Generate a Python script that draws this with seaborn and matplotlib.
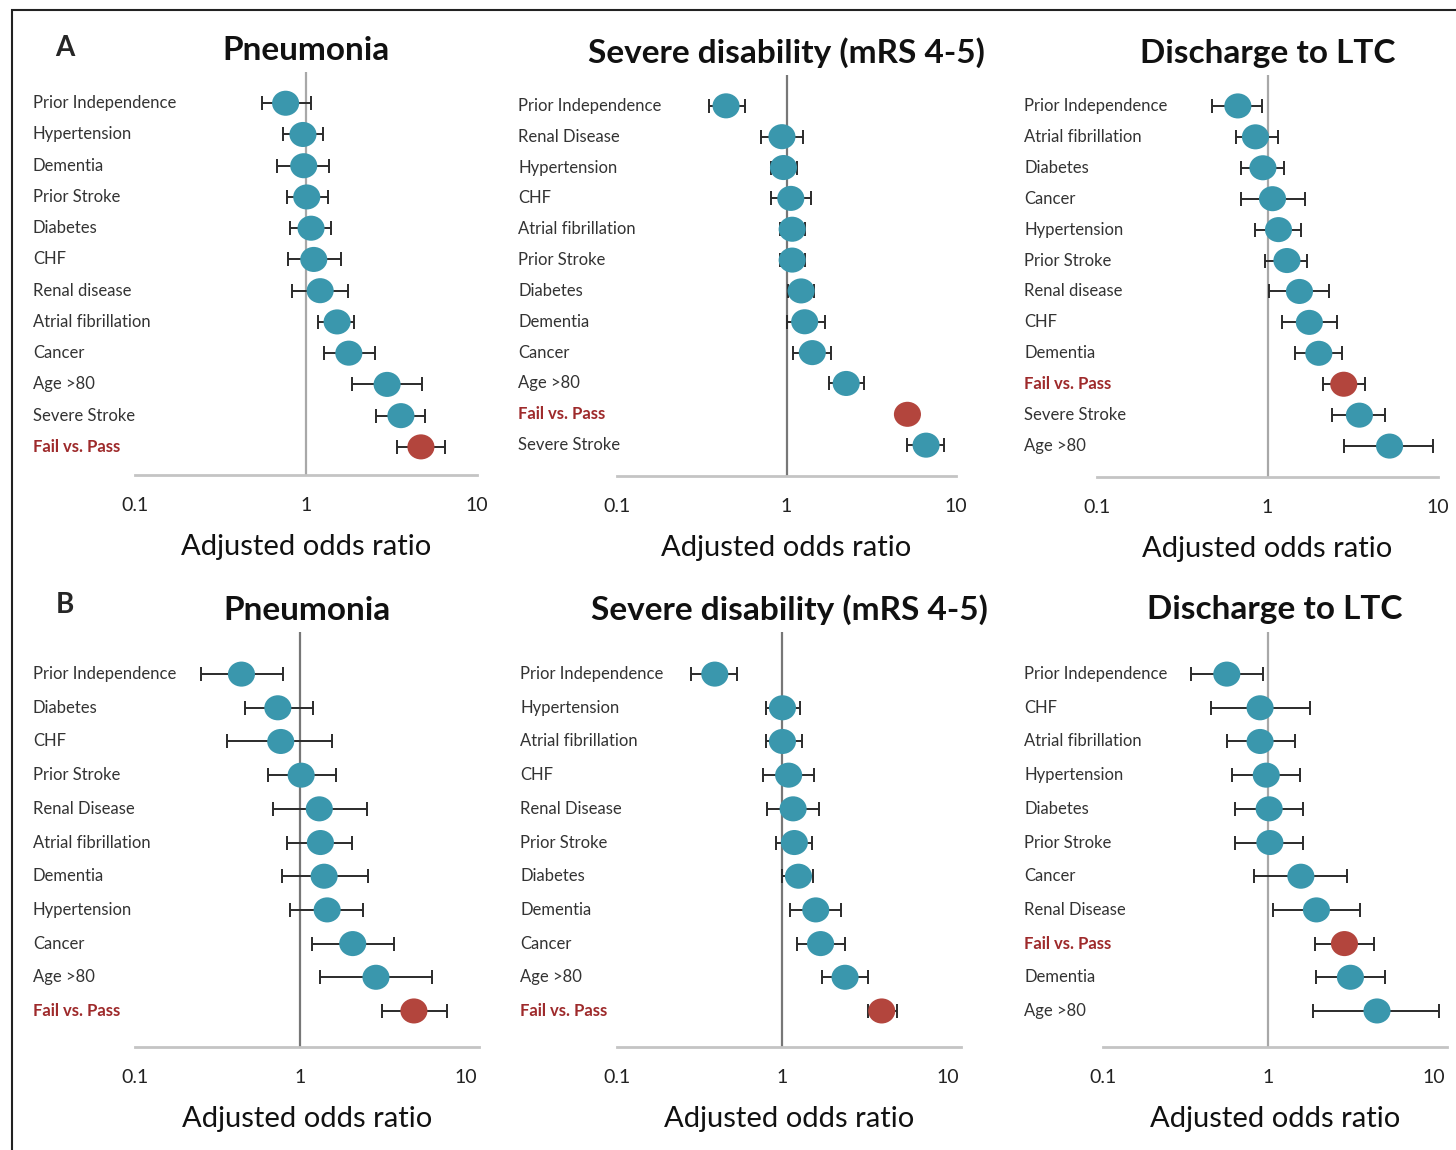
import matplotlib
matplotlib.use("Agg")
import matplotlib.pyplot as plt
import matplotlib.patches as mpatches
from matplotlib.path import Path
from matplotlib.ticker import NullLocator
import numpy as np
import pandas as pd
import seaborn as sns

# ---- data (odds ratio, 95% CI) ----
# A: Pneumonia
pna_a_labels = ["Prior Independence", "Hypertension", "Dementia", "Prior Stroke", "Diabetes", "CHF",
                "Renal disease", "Atrial fibrillation", "Cancer", "Age >80", "Severe Stroke", "Fail vs. Pass"]
pna_a_or = [0.76, 0.96, 0.97, 1.01, 1.07, 1.11, 1.21, 1.52, 1.78, 2.98, 3.59, 4.70]
pna_a_lo = [0.55, 0.73, 0.68, 0.77, 0.81, 0.78, 0.83, 1.18, 1.27, 1.86, 2.56, 3.41]
pna_a_hi = [1.07, 1.26, 1.36, 1.35, 1.40, 1.60, 1.76, 1.91, 2.53, 4.76, 4.97, 6.49]

# A: Severe disability
dis_a_labels = ["Prior Independence", "Renal Disease", "Hypertension", "CHF", "Atrial fibrillation", "Prior Stroke",
                "Diabetes", "Dementia", "Cancer", "Age >80", "Fail vs. Pass", "Severe Stroke"]
dis_a_or = [0.44, 0.94, 0.96, 1.06, 1.08, 1.08, 1.22, 1.28, 1.42, 2.25, 5.17, 6.66]
dis_a_lo = [0.35, 0.71, 0.81, 0.81, 0.91, 0.91, 1.02, 1.00, 1.09, 1.77, 4.85, 5.13]
dis_a_hi = [0.57, 1.25, 1.15, 1.40, 1.28, 1.28, 1.46, 1.68, 1.84, 2.85, 5.50, 8.53]

# A: Discharge to LTC
ltc_a_labels = ["Prior Independence", "Atrial fibrillation", "Diabetes", "Cancer", "Hypertension", "Prior Stroke",
                "Renal disease", "CHF", "Dementia", "Fail vs. Pass", "Severe Stroke", "Age >80"]
ltc_a_or = [0.67, 0.85, 0.94, 1.07, 1.16, 1.30, 1.54, 1.76, 2.00, 2.80, 3.46, 5.20]
ltc_a_lo = [0.47, 0.65, 0.70, 0.70, 0.84, 0.97, 1.02, 1.21, 1.45, 2.12, 2.39, 2.80]
ltc_a_hi = [0.93, 1.16, 1.25, 1.67, 1.58, 1.70, 2.28, 2.55, 2.74, 3.75, 4.92, 9.35]

# B: Pneumonia
pna_b_labels = ["Prior Independence", "Diabetes", "CHF", "Prior Stroke", "Renal Disease", "Atrial fibrillation",
                "Dementia", "Hypertension", "Cancer", "Age >80", "Fail vs. Pass"]
pna_b_or = [0.44, 0.73, 0.76, 1.01, 1.30, 1.32, 1.39, 1.45, 2.07, 2.86, 4.85]
pna_b_lo = [0.25, 0.46, 0.36, 0.64, 0.68, 0.83, 0.77, 0.86, 1.17, 1.31, 3.09]
pna_b_hi = [0.78, 1.19, 1.55, 1.64, 2.53, 2.06, 2.57, 2.40, 3.66, 6.25, 7.69]

# B: Severe disability
dis_b_labels = ["Prior Independence", "Hypertension", "Atrial fibrillation", "CHF", "Renal Disease", "Prior Stroke",
                "Diabetes", "Dementia", "Cancer", "Age >80", "Fail vs. Pass"]
dis_b_or = [0.39, 1.00, 1.00, 1.09, 1.16, 1.18, 1.25, 1.59, 1.70, 2.39, 3.98]
dis_b_lo = [0.28, 0.80, 0.79, 0.76, 0.81, 0.92, 1.00, 1.11, 1.22, 1.73, 3.27]
dis_b_hi = [0.53, 1.27, 1.31, 1.55, 1.67, 1.50, 1.54, 2.26, 2.39, 3.30, 4.90]

# B: Discharge to LTC
ltc_b_labels = ["Prior Independence", "CHF", "Atrial fibrillation", "Hypertension", "Diabetes", "Prior Stroke",
                "Cancer", "Renal Disease", "Fail vs. Pass", "Dementia", "Age >80"]
ltc_b_or = [0.56, 0.89, 0.89, 0.97, 1.01, 1.02, 1.57, 1.95, 2.88, 3.13, 4.53]
ltc_b_lo = [0.34, 0.45, 0.56, 0.60, 0.63, 0.63, 0.82, 1.06, 1.91, 1.93, 1.86]
ltc_b_hi = [0.93, 1.78, 1.45, 1.55, 1.62, 1.62, 2.99, 3.60, 4.32, 5.04, 10.7]

TEAL = "#3a97ad"
RED = "#b3453d"
LABEL_RED = "#9e2a2b"

W, H = 1456, 1150

sns.set_theme(style="white")
plt.rcParams["font.family"] = ["Lato", "DejaVu Sans"]

# slightly flattened dot, like the original markers
circle = Path.unit_circle()
oval = Path(circle.vertices * np.array([1.08, 1.0]), circle.codes)

fig = plt.figure(figsize=(W / 100, H / 100), dpi=100)


def add_axes_px(left, right, top, bottom):
    return fig.add_axes([left / W, 1 - bottom / H, (right - left) / W, (bottom - top) / H])


def forest(ax, labels, odds, lo, hi, title, label_x, ylim, xmax, refcolor):
    df = pd.DataFrame({"factor": labels, "or": odds, "lo": lo, "hi": hi})
    df["row"] = np.arange(len(df))
    df["kind"] = np.where(df["factor"] == "Fail vs. Pass", "test", "other")

    ax.axvline(1, color=refcolor, lw=1.6, zorder=1)
    ax.errorbar(df["or"], df["row"], xerr=[df["or"] - df["lo"], df["hi"] - df["or"]],
                fmt="none", ecolor="#2b2b2b", elinewidth=1.4, capsize=5, capthick=1.4, zorder=2)
    sns.scatterplot(data=df, x="or", y="row", hue="kind", palette={"other": TEAL, "test": RED},
                    marker=oval, s=380, edgecolor="none", legend=False, ax=ax, zorder=3)

    ax.set_xscale("log")
    ax.set_xlim(0.1, xmax)
    ax.set_ylim(*ylim)
    ax.set_yticks([])
    ax.set_xticks([0.1, 1, 10])
    ax.set_xticklabels(["0.1", "1", "10"])
    ax.xaxis.set_minor_locator(NullLocator())
    ax.tick_params(axis="x", length=0, pad=16, labelsize=14, labelcolor="#222")
    for side in ["top", "right", "left"]:
        ax.spines[side].set_visible(False)
    ax.spines["bottom"].set_color("#c4c4c4")
    ax.spines["bottom"].set_linewidth(2)
    ax.set_xlabel("Adjusted odds ratio", fontsize=21, labelpad=14, color="#111")
    ax.set_ylabel("")
    ax.set_title(title, fontsize=24, fontweight="bold", pad=9, color="#111")

    for r, name in zip(df["row"], df["factor"]):
        if name == "Fail vs. Pass":
            ax.text(label_x, r, name, transform=ax.get_yaxis_transform(), ha="left", va="center",
                    fontsize=12, color=LABEL_RED, fontweight="bold")
        else:
            ax.text(label_x, r, name, transform=ax.get_yaxis_transform(), ha="left", va="center",
                    fontsize=12, color="#333")


# top row (A)
ax = add_axes_px(135, 477, 72, 475)
forest(ax, pna_a_labels, pna_a_or, pna_a_lo, pna_a_hi, "Pneumonia", (33 - 135) / 342, (11.9, -1.0), 10, "#a8a8a8")
ax = add_axes_px(617, 956, 75, 476)
forest(ax, dis_a_labels, dis_a_or, dis_a_lo, dis_a_hi, "Severe disability (mRS 4-5)", (518 - 617) / 339,
       (12.0, -1.0), 10, "#777777")
ax = add_axes_px(1097, 1438, 75, 477)
forest(ax, ltc_a_labels, ltc_a_or, ltc_a_lo, ltc_a_hi, "Discharge to LTC", (1024 - 1097) / 341,
       (12.0, -1.0), 10, "#a8a8a8")

# bottom row (B)
ax = add_axes_px(135, 479, 632, 1047)
forest(ax, pna_b_labels, pna_b_or, pna_b_lo, pna_b_hi, "Pneumonia", (33 - 135) / 344, (11.07, -1.25), 12, "#777777")
ax = add_axes_px(617, 961, 632, 1047)
forest(ax, dis_b_labels, dis_b_or, dis_b_lo, dis_b_hi, "Severe disability (mRS 4-5)", (520 - 617) / 344,
       (11.07, -1.25), 12, "#777777")
ax = add_axes_px(1103, 1447, 632, 1047)
forest(ax, ltc_b_labels, ltc_b_or, ltc_b_lo, ltc_b_hi, "Discharge to LTC", (1024 - 1103) / 344,
       (11.07, -1.25), 12, "#a8a8a8")

fig.text(65 / W, 1 - 48 / H, "A", fontsize=20, fontweight="bold", ha="center", va="center")
fig.text(65 / W, 1 - 605 / H, "B", fontsize=20, fontweight="bold", ha="center", va="center")

# outer frame
fig.add_artist(mpatches.Rectangle((12 / W, -0.05), 1.1, 1 - 10 / H + 0.05, transform=fig.transFigure,
                                  fill=False, ec="#222", lw=1.5))

fig.savefig("out.png", dpi=100)
